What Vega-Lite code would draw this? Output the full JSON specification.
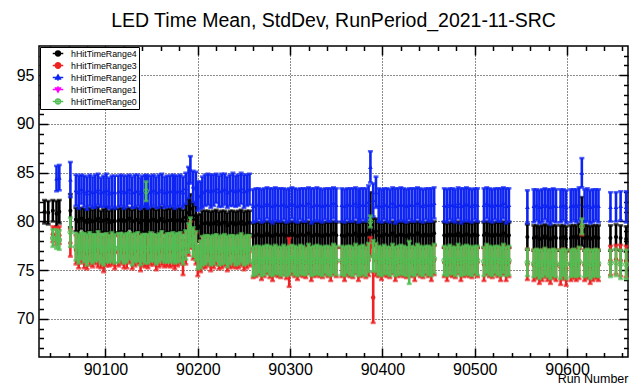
{
"$schema": "https://vega.github.io/schema/vega-lite/v6.json",
"width": 589, "height": 311,
"autosize": {"type": "none"},
"padding": {"left": 39, "top": 46, "right": 2, "bottom": 27},
"background": "white",
"title": {"text": "LED Time Mean, StdDev, RunPeriod_2021-11-SRC", "font": "Liberation Sans", "fontSize": 19.5, "fontWeight": "normal", "color": "#000", "anchor": "middle", "offset": -1, "baseline": "alphabetic"},
"config": {
  "view": {"stroke": "#000", "strokeWidth": 1.5},
  "axis": {"labelFont": "Liberation Sans", "labelFontSize": 16, "labelColor": "#000", "tickColor": "#000", "domain": false, "gridColor": "#000", "gridDash": [1, 2], "gridOpacity": 0.9, "gridWidth": 1, "tickWidth": 1.5, "titleFont": "Liberation Sans", "titleColor": "#000"},
  "legend": {"labelFont": "Liberation Sans", "labelFontSize": 8.8, "labelColor": "#000", "strokeColor": "#000", "fillColor": "#fff", "padding": 2, "rowPadding": 2, "clipHeight": 9, "symbolSize": 100, "symbolStrokeWidth": 1.3, "symbolOffset": 10, "labelOffset": 7, "orient": "top-left", "offset": 1, "cornerRadius": 0}
},
"data": {"values": [
{"r":90034,"k":81.0,"ks":1.2},
{"r":90038,"k":80.9,"ks":1.2},
{"r":90043,"k":81.1,"ks":1.1,"t":78.7,"ts":0.8,"g":78.3,"gs":0.9},
{"r":90047,"k":80.8,"ks":1.3,"t":78.5,"ts":0.9,"b":84.4,"bs":1.3,"g":78.2,"gs":1.0},
{"r":90050,"k":81.0,"ks":1.2,"t":78.6,"ts":0.9,"b":84.5,"bs":1.3,"g":78.1,"gs":1.0},
{"r":90062,"k":81.1,"ks":1.7,"t":77.8,"ts":1.4,"b":84.3,"bs":1.8,"g":78.9,"gs":1.5},
{"r":90068,"k":80.2,"ks":1.2,"t":77.1,"ts":1.5,"b":83.2,"bs":1.6,"g":77.4,"gs":1.4},
{"r":90071,"k":80.0,"ks":1.3,"t":76.8,"ts":1.6,"b":83.0,"bs":1.7,"g":77.2,"gs":1.5},
{"r":90074,"k":80.3,"ks":1.1,"t":77.2,"ts":1.5,"b":83.3,"bs":1.5,"g":77.5,"gs":1.4},
{"r":90077,"k":80.1,"ks":1.2,"t":76.9,"ts":1.7,"b":83.1,"bs":1.6,"g":77.3,"gs":1.5},
{"r":90080,"k":79.9,"ks":1.3,"t":76.7,"ts":1.6,"b":82.9,"bs":1.7,"g":77.1,"gs":1.6},
{"r":90083,"k":80.2,"ks":1.2,"t":77.0,"ts":1.5,"b":83.2,"bs":1.6,"g":77.4,"gs":1.5},
{"r":90086,"k":80.0,"ks":1.2,"t":76.9,"ts":1.6,"b":83.0,"bs":1.6,"g":77.2,"gs":1.5},
{"r":90089,"k":80.1,"ks":1.3,"t":77.1,"ts":1.5,"b":83.1,"bs":1.7,"g":77.3,"gs":1.4},
{"r":90092,"k":80.3,"ks":1.2,"t":77.0,"ts":1.7,"b":83.3,"bs":1.6,"g":77.5,"gs":1.5},
{"r":90095,"k":80.0,"ks":1.1,"t":76.8,"ts":1.6,"b":83.0,"bs":1.5,"g":77.2,"gs":1.5},
{"r":90098,"k":80.1,"ks":1.2,"t":76.6,"ts":1.8,"b":83.1,"bs":1.6,"g":77.1,"gs":1.6},
{"r":90101,"k":80.2,"ks":1.3,"t":77.0,"ts":1.6,"b":83.2,"bs":1.7,"g":77.3,"gs":1.5},
{"r":90104,"k":79.9,"ks":1.2,"t":76.9,"ts":1.5,"b":82.9,"bs":1.6,"g":77.2,"gs":1.4},
{"r":90107,"k":80.1,"ks":1.2,"t":77.1,"ts":1.6,"b":83.1,"bs":1.6,"g":77.4,"gs":1.5},
{"r":90110,"k":80.0,"ks":1.3,"t":76.8,"ts":1.7,"b":83.0,"bs":1.7,"g":77.2,"gs":1.5},
{"r":90114,"k":80.1,"ks":1.2,"t":77.0,"ts":1.6,"b":83.1,"bs":1.6,"g":77.3,"gs":1.5},
{"r":90117,"k":80.2,"ks":1.2,"t":77.1,"ts":1.5,"b":83.2,"bs":1.6,"g":77.4,"gs":1.4},
{"r":90120,"k":80.0,"ks":1.3,"t":76.8,"ts":1.6,"b":83.0,"bs":1.7,"g":77.2,"gs":1.5},
{"r":90123,"k":80.1,"ks":1.2,"t":76.9,"ts":1.7,"b":83.1,"bs":1.6,"g":77.3,"gs":1.5},
{"r":90126,"k":80.3,"ks":1.1,"t":77.2,"ts":1.5,"b":83.3,"bs":1.5,"g":77.5,"gs":1.4},
{"r":90129,"k":80.0,"ks":1.2,"t":76.7,"ts":1.6,"b":83.0,"bs":1.6,"g":77.1,"gs":1.6},
{"r":90132,"k":80.1,"ks":1.3,"t":77.0,"ts":1.6,"b":83.1,"bs":1.7,"g":77.3,"gs":1.5},
{"r":90135,"k":80.2,"ks":1.2,"t":77.1,"ts":1.5,"b":83.2,"bs":1.6,"g":77.4,"gs":1.5},
{"r":90138,"k":79.9,"ks":1.2,"t":76.6,"ts":1.7,"b":82.9,"bs":1.6,"g":77.0,"gs":1.5},
{"r":90140,"k":80.1,"ks":1.2,"t":77.0,"ts":1.6,"b":83.1,"bs":1.6,"g":77.3,"gs":1.4},
{"r":90143,"k":80.1,"ks":1.2,"t":76.9,"ts":1.6,"b":83.1,"bs":1.6,"g":77.2,"gs":1.5},
{"r":90144,"k":80.2,"ks":1.2,"t":77.0,"ts":1.5,"b":83.2,"bs":1.6,"g":83.1,"gs":1.0},
{"r":90146,"k":80.0,"ks":1.3,"t":76.8,"ts":1.6,"b":83.0,"bs":1.7,"g":77.2,"gs":1.5},
{"r":90149,"k":80.1,"ks":1.2,"t":77.1,"ts":1.6,"b":83.1,"bs":1.6,"g":77.4,"gs":1.5},
{"r":90152,"k":80.2,"ks":1.2,"t":77.0,"ts":1.5,"b":83.2,"bs":1.6,"g":77.3,"gs":1.4},
{"r":90155,"k":80.0,"ks":1.2,"t":76.7,"ts":1.7,"b":83.0,"bs":1.6,"g":77.1,"gs":1.5},
{"r":90158,"k":80.1,"ks":1.3,"t":76.9,"ts":1.6,"b":83.1,"bs":1.7,"g":77.3,"gs":1.5},
{"r":90161,"k":80.3,"ks":1.2,"t":77.1,"ts":1.6,"b":83.3,"bs":1.6,"g":77.5,"gs":1.5},
{"r":90164,"k":80.0,"ks":1.2,"t":76.8,"ts":1.5,"b":83.0,"bs":1.6,"g":77.2,"gs":1.4},
{"r":90167,"k":80.1,"ks":1.2,"t":77.0,"ts":1.6,"b":83.1,"bs":1.6,"g":77.3,"gs":1.5},
{"r":90170,"k":80.1,"ks":1.2,"t":76.9,"ts":1.6,"b":83.1,"bs":1.6,"g":77.3,"gs":1.5},
{"r":90173,"k":80.2,"ks":1.2,"t":77.0,"ts":1.6,"b":83.2,"bs":1.6,"g":77.4,"gs":1.5},
{"r":90175,"k":80.0,"ks":1.3,"t":76.8,"ts":1.7,"b":83.0,"bs":1.7,"g":77.2,"gs":1.5},
{"r":90178,"k":80.1,"ks":1.2,"t":77.0,"ts":1.6,"b":83.1,"bs":1.6,"g":77.3,"gs":1.5},
{"r":90181,"k":80.2,"ks":1.2,"t":77.1,"ts":1.5,"b":83.2,"bs":1.6,"g":77.4,"gs":1.5},
{"r":90184,"k":80.0,"ks":1.2,"t":76.3,"ts":1.8,"b":83.0,"bs":1.6,"g":77.1,"gs":1.5},
{"r":90187,"k":80.4,"ks":1.3,"t":77.2,"ts":1.6,"b":83.4,"bs":1.6,"g":77.6,"gs":1.5},
{"r":90190,"k":80.9,"ks":1.4,"t":78.0,"ts":1.5,"b":84.0,"bs":1.6,"g":78.3,"gs":1.5},
{"r":90192,"k":81.3,"ks":1.5,"t":78.6,"ts":1.4,"b":85.3,"bs":1.4,"g":78.9,"gs":1.5},
{"r":90195,"k":80.6,"ks":1.3,"t":77.6,"ts":1.5,"b":83.6,"bs":1.6,"g":77.9,"gs":1.5},
{"r":90198,"k":80.2,"ks":1.4,"t":77.2,"ts":1.6,"b":83.4,"bs":1.7,"g":77.5,"gs":1.5},
{"r":90200,"k":79.3,"ks":1.4,"t":75.9,"ts":1.5,"b":82.6,"bs":1.5,"g":76.3,"gs":1.2},
{"r":90203,"k":79.5,"ks":1.3,"t":76.4,"ts":1.6,"b":82.7,"bs":1.4,"g":76.6,"gs":1.4},
{"r":90205,"k":79.8,"ks":1.3,"t":76.8,"ts":1.6,"b":83.0,"bs":1.6,"g":77.0,"gs":1.5},
{"r":90208,"k":79.8,"ks":1.3,"t":76.8,"ts":1.6,"b":83.2,"bs":1.6,"g":77.1,"gs":1.5},
{"r":90211,"k":79.9,"ks":1.2,"t":76.9,"ts":1.5,"b":83.3,"bs":1.6,"g":77.2,"gs":1.4},
{"r":90214,"k":79.7,"ks":1.3,"t":76.6,"ts":1.7,"b":83.1,"bs":1.7,"g":77.0,"gs":1.5},
{"r":90217,"k":79.8,"ks":1.3,"t":76.8,"ts":1.6,"b":83.2,"bs":1.6,"g":77.1,"gs":1.5},
{"r":90220,"k":80.0,"ks":1.2,"t":77.0,"ts":1.5,"b":83.4,"bs":1.5,"g":77.3,"gs":1.4},
{"r":90223,"k":79.7,"ks":1.3,"t":76.7,"ts":1.6,"b":83.1,"bs":1.6,"g":77.0,"gs":1.5},
{"r":90226,"k":79.8,"ks":1.3,"t":76.8,"ts":1.6,"b":83.2,"bs":1.7,"g":77.1,"gs":1.5},
{"r":90229,"k":79.9,"ks":1.2,"t":76.9,"ts":1.5,"b":83.3,"bs":1.6,"g":77.2,"gs":1.5},
{"r":90232,"k":79.6,"ks":1.3,"t":76.6,"ts":1.7,"b":83.0,"bs":1.6,"g":76.9,"gs":1.6},
{"r":90235,"k":79.8,"ks":1.3,"t":76.8,"ts":1.6,"b":83.2,"bs":1.6,"g":77.1,"gs":1.5},
{"r":90238,"k":79.9,"ks":1.2,"t":76.9,"ts":1.6,"b":83.3,"bs":1.7,"g":77.2,"gs":1.4},
{"r":90241,"k":79.7,"ks":1.3,"t":76.7,"ts":1.5,"b":83.1,"bs":1.6,"g":77.0,"gs":1.5},
{"r":90244,"k":79.8,"ks":1.3,"t":76.8,"ts":1.6,"b":83.2,"bs":1.6,"g":77.1,"gs":1.5},
{"r":90247,"k":80.0,"ks":1.2,"t":77.0,"ts":1.6,"b":83.4,"bs":1.6,"g":77.3,"gs":1.5},
{"r":90250,"k":79.7,"ks":1.3,"t":76.7,"ts":1.7,"b":83.1,"bs":1.7,"g":77.0,"gs":1.5},
{"r":90253,"k":79.8,"ks":1.3,"t":76.8,"ts":1.6,"b":83.2,"bs":1.6,"g":77.1,"gs":1.5},
{"r":90256,"k":79.9,"ks":1.2,"t":76.9,"ts":1.5,"b":83.3,"bs":1.6,"g":77.2,"gs":1.4},
{"r":90260,"k":78.5,"ks":1.3,"t":75.7,"ts":1.5,"b":81.6,"bs":1.7,"g":75.9,"gs":1.5},
{"r":90263,"k":78.6,"ks":1.3,"t":75.8,"ts":1.5,"b":81.7,"bs":1.7,"g":76.0,"gs":1.5},
{"r":90266,"k":78.7,"ks":1.2,"t":75.9,"ts":1.4,"b":81.8,"bs":1.6,"g":76.1,"gs":1.4},
{"r":90269,"k":78.5,"ks":1.3,"t":75.6,"ts":1.6,"b":81.6,"bs":1.7,"g":75.9,"gs":1.5},
{"r":90272,"k":78.6,"ks":1.3,"t":75.8,"ts":1.5,"b":81.7,"bs":1.7,"g":76.0,"gs":1.5},
{"r":90275,"k":78.8,"ks":1.2,"t":76.0,"ts":1.4,"b":81.9,"bs":1.6,"g":76.2,"gs":1.4},
{"r":90278,"k":78.6,"ks":1.3,"t":75.7,"ts":1.5,"b":81.7,"bs":1.7,"g":76.0,"gs":1.5},
{"r":90281,"k":78.5,"ks":1.3,"t":75.6,"ts":1.7,"b":81.6,"bs":1.8,"g":75.9,"gs":1.5},
{"r":90284,"k":78.7,"ks":1.2,"t":75.9,"ts":1.5,"b":81.8,"bs":1.7,"g":76.1,"gs":1.5},
{"r":90287,"k":78.6,"ks":1.3,"t":75.8,"ts":1.5,"b":81.7,"bs":1.7,"g":76.0,"gs":1.4},
{"r":90290,"k":78.6,"ks":1.3,"t":75.7,"ts":1.5,"b":81.7,"bs":1.7,"g":75.9,"gs":1.5},
{"r":90293,"k":78.7,"ks":1.2,"t":75.9,"ts":1.4,"b":81.8,"bs":1.6,"g":76.1,"gs":1.5},
{"r":90296,"k":78.5,"ks":1.3,"t":75.7,"ts":1.6,"b":81.6,"bs":1.7,"g":75.9,"gs":1.5},
{"r":90299,"k":78.6,"ks":1.3,"t":75.8,"ts":2.5,"b":81.7,"bs":1.7,"g":76.0,"gs":1.5},
{"r":90302,"k":78.8,"ks":1.2,"t":76.0,"ts":1.5,"b":81.9,"bs":1.6,"g":76.2,"gs":1.4},
{"r":90305,"k":78.6,"ks":1.3,"t":75.8,"ts":1.5,"b":81.7,"bs":1.7,"g":76.0,"gs":1.5},
{"r":90308,"k":78.5,"ks":1.3,"t":75.6,"ts":1.6,"b":81.6,"bs":1.7,"g":75.9,"gs":1.5},
{"r":90311,"k":78.7,"ks":1.2,"t":75.9,"ts":1.5,"b":81.8,"bs":1.6,"g":76.1,"gs":1.5},
{"r":90314,"k":78.6,"ks":1.3,"t":75.8,"ts":1.5,"b":81.7,"bs":1.7,"g":76.0,"gs":1.5},
{"r":90317,"k":78.6,"ks":1.3,"t":75.7,"ts":1.5,"b":81.7,"bs":1.7,"g":75.9,"gs":1.4},
{"r":90320,"k":78.8,"ks":1.2,"t":76.0,"ts":1.4,"b":81.9,"bs":1.6,"g":76.2,"gs":1.5},
{"r":90323,"k":78.5,"ks":1.3,"t":75.6,"ts":1.7,"b":81.6,"bs":1.8,"g":75.9,"gs":1.5},
{"r":90326,"k":78.6,"ks":1.3,"t":75.8,"ts":1.5,"b":81.7,"bs":1.7,"g":76.0,"gs":1.5},
{"r":90329,"k":78.7,"ks":1.2,"t":75.9,"ts":1.5,"b":81.8,"bs":1.7,"g":76.1,"gs":1.5},
{"r":90332,"k":78.6,"ks":1.3,"t":75.8,"ts":1.5,"b":81.7,"bs":1.7,"g":76.0,"gs":1.5},
{"r":90335,"k":78.5,"ks":1.3,"t":75.7,"ts":1.5,"b":81.6,"bs":1.7,"g":75.9,"gs":1.5},
{"r":90338,"k":78.7,"ks":1.2,"t":75.9,"ts":1.4,"b":81.8,"bs":1.6,"g":76.1,"gs":1.4},
{"r":90341,"k":78.6,"ks":1.3,"t":75.8,"ts":1.5,"b":81.7,"bs":1.7,"g":76.0,"gs":1.5},
{"r":90344,"k":78.6,"ks":1.3,"t":75.6,"ts":1.7,"b":81.7,"bs":1.7,"g":75.9,"gs":1.5},
{"r":90347,"k":78.8,"ks":1.2,"t":76.0,"ts":1.5,"b":81.9,"bs":1.6,"g":76.2,"gs":1.5},
{"r":90350,"k":78.6,"ks":1.3,"t":75.8,"ts":1.5,"b":81.7,"bs":1.7,"g":76.0,"gs":1.5},
{"r":90356,"k":78.6,"ks":1.3,"t":75.8,"ts":1.5,"b":81.7,"bs":1.7,"g":76.0,"gs":1.5},
{"r":90359,"k":78.5,"ks":1.3,"t":75.6,"ts":1.7,"b":81.6,"bs":1.7,"g":75.9,"gs":1.5},
{"r":90362,"k":78.7,"ks":1.2,"t":75.9,"ts":1.5,"b":81.8,"bs":1.6,"g":76.1,"gs":1.4},
{"r":90365,"k":78.6,"ks":1.3,"t":75.8,"ts":1.5,"b":81.7,"bs":1.7,"g":76.0,"gs":1.5},
{"r":90368,"k":78.6,"ks":1.3,"t":75.7,"ts":1.5,"b":81.7,"bs":1.7,"g":75.9,"gs":1.5},
{"r":90371,"k":78.8,"ks":1.2,"t":76.0,"ts":1.4,"b":81.9,"bs":1.6,"g":76.2,"gs":1.5},
{"r":90374,"k":78.5,"ks":1.3,"t":75.6,"ts":1.7,"b":81.6,"bs":1.7,"g":75.9,"gs":1.5},
{"r":90376,"k":78.6,"ks":1.3,"t":75.8,"ts":1.5,"b":81.7,"bs":1.7,"g":76.0,"gs":1.5},
{"r":90379,"k":78.7,"ks":1.2,"t":75.9,"ts":1.5,"b":81.8,"bs":1.6,"g":76.1,"gs":1.5},
{"r":90382,"k":78.6,"ks":1.3,"t":75.7,"ts":1.5,"b":81.7,"bs":1.7,"g":75.9,"gs":1.5},
{"r":90385,"k":78.8,"ks":1.3,"t":76.0,"ts":1.6,"b":82.0,"bs":1.7,"g":76.3,"gs":1.5},
{"r":90387,"k":80.5,"ks":2.5,"t":77.4,"ts":1.0,"b":85.6,"bs":1.6,"g":80.0,"gs":0.6},
{"r":90390,"k":78.9,"ks":1.4,"t":72.2,"ts":2.6,"b":82.2,"bs":1.7,"g":76.5,"gs":1.6},
{"r":90393,"k":79.0,"ks":1.3,"t":76.0,"ts":1.6,"b":83.0,"bs":1.6,"g":76.3,"gs":1.5},
{"r":90396,"k":78.6,"ks":1.3,"t":75.8,"ts":1.5,"b":81.7,"bs":1.7,"g":76.0,"gs":1.5},
{"r":90399,"k":78.5,"ks":1.3,"t":75.6,"ts":1.6,"b":81.6,"bs":1.7,"g":75.9,"gs":1.5},
{"r":90402,"k":78.7,"ks":1.2,"t":75.9,"ts":1.5,"b":81.8,"bs":1.6,"g":76.1,"gs":1.5},
{"r":90405,"k":78.6,"ks":1.3,"t":75.8,"ts":1.5,"b":81.7,"bs":1.7,"g":76.0,"gs":1.4},
{"r":90408,"k":78.6,"ks":1.3,"t":75.7,"ts":1.5,"b":81.6,"bs":1.7,"g":75.9,"gs":1.5},
{"r":90411,"k":78.8,"ks":1.2,"t":76.0,"ts":1.4,"b":81.9,"bs":1.6,"g":76.2,"gs":1.5},
{"r":90414,"k":78.5,"ks":1.3,"t":75.6,"ts":1.7,"b":81.6,"bs":1.8,"g":75.9,"gs":1.5},
{"r":90417,"k":78.6,"ks":1.3,"t":75.8,"ts":1.5,"b":81.7,"bs":1.7,"g":76.0,"gs":1.5},
{"r":90420,"k":78.7,"ks":1.2,"t":75.9,"ts":1.5,"b":81.8,"bs":1.7,"g":76.1,"gs":1.5},
{"r":90423,"k":78.6,"ks":1.3,"t":75.8,"ts":1.5,"b":81.7,"bs":1.7,"g":76.0,"gs":1.5},
{"r":90426,"k":78.5,"ks":1.3,"t":75.7,"ts":1.5,"b":81.6,"bs":1.7,"g":75.9,"gs":1.5},
{"r":90429,"k":78.7,"ks":1.2,"t":75.9,"ts":1.4,"b":81.8,"bs":1.6,"g":75.8,"gs":2.2},
{"r":90432,"k":78.6,"ks":1.3,"t":75.8,"ts":1.5,"b":81.7,"bs":1.7,"g":76.0,"gs":1.5},
{"r":90435,"k":78.6,"ks":1.3,"t":75.6,"ts":1.7,"b":81.7,"bs":1.7,"g":75.9,"gs":1.5},
{"r":90438,"k":78.8,"ks":1.2,"t":76.0,"ts":1.5,"b":81.9,"bs":1.6,"g":76.2,"gs":1.5},
{"r":90441,"k":78.6,"ks":1.3,"t":75.8,"ts":1.5,"b":81.7,"bs":1.7,"g":76.0,"gs":1.5},
{"r":90444,"k":78.5,"ks":1.3,"t":75.7,"ts":1.5,"b":81.6,"bs":1.7,"g":75.9,"gs":1.5},
{"r":90447,"k":78.7,"ks":1.2,"t":75.9,"ts":1.4,"b":81.8,"bs":1.6,"g":76.1,"gs":1.4},
{"r":90450,"k":78.6,"ks":1.3,"t":75.8,"ts":1.5,"b":81.7,"bs":1.7,"g":76.0,"gs":1.5},
{"r":90453,"k":78.6,"ks":1.3,"t":75.6,"ts":1.7,"b":81.7,"bs":1.7,"g":75.9,"gs":1.5},
{"r":90456,"k":78.8,"ks":1.2,"t":76.0,"ts":1.5,"b":81.9,"bs":1.6,"g":76.2,"gs":1.5},
{"r":90467,"k":78.6,"ks":1.3,"t":75.8,"ts":1.5,"b":81.7,"bs":1.7,"g":76.0,"gs":1.5},
{"r":90470,"k":78.5,"ks":1.3,"t":75.6,"ts":1.7,"b":81.6,"bs":1.7,"g":75.9,"gs":1.5},
{"r":90473,"k":78.7,"ks":1.2,"t":75.9,"ts":1.5,"b":81.8,"bs":1.6,"g":76.1,"gs":1.5},
{"r":90476,"k":78.6,"ks":1.3,"t":75.8,"ts":1.5,"b":81.7,"bs":1.7,"g":76.0,"gs":1.4},
{"r":90479,"k":78.6,"ks":1.3,"t":75.7,"ts":1.5,"b":81.6,"bs":1.7,"g":75.9,"gs":1.5},
{"r":90482,"k":78.8,"ks":1.2,"t":76.0,"ts":1.4,"b":81.9,"bs":1.6,"g":76.2,"gs":1.5},
{"r":90485,"k":78.5,"ks":1.3,"t":75.6,"ts":1.7,"b":81.6,"bs":1.8,"g":75.9,"gs":1.5},
{"r":90488,"k":78.6,"ks":1.3,"t":75.8,"ts":1.5,"b":81.7,"bs":1.7,"g":76.0,"gs":1.5},
{"r":90491,"k":78.7,"ks":1.2,"t":75.9,"ts":1.5,"b":81.8,"bs":1.7,"g":76.1,"gs":1.5},
{"r":90494,"k":78.6,"ks":1.3,"t":75.8,"ts":1.5,"b":81.7,"bs":1.7,"g":76.0,"gs":1.5},
{"r":90497,"k":78.5,"ks":1.3,"t":75.7,"ts":1.5,"b":81.6,"bs":1.7,"g":75.9,"gs":1.5},
{"r":90500,"k":78.7,"ks":1.2,"t":75.9,"ts":1.4,"b":81.8,"bs":1.6,"g":76.1,"gs":1.4},
{"r":90503,"k":78.6,"ks":1.3,"t":75.8,"ts":1.5,"b":81.7,"bs":1.7,"g":76.0,"gs":1.5},
{"r":90510,"k":78.6,"ks":1.3,"t":75.6,"ts":1.7,"b":81.7,"bs":1.7,"g":75.9,"gs":1.5},
{"r":90513,"k":78.8,"ks":1.2,"t":76.0,"ts":1.5,"b":81.9,"bs":1.6,"g":76.2,"gs":1.5},
{"r":90516,"k":78.6,"ks":1.3,"t":75.8,"ts":1.5,"b":81.7,"bs":1.7,"g":76.0,"gs":1.5},
{"r":90519,"k":78.5,"ks":1.3,"t":75.7,"ts":1.5,"b":81.6,"bs":1.7,"g":75.9,"gs":1.5},
{"r":90522,"k":78.7,"ks":1.2,"t":75.9,"ts":1.4,"b":81.8,"bs":1.6,"g":76.1,"gs":1.4},
{"r":90525,"k":78.6,"ks":1.3,"t":75.8,"ts":1.5,"b":81.7,"bs":1.7,"g":76.0,"gs":1.5},
{"r":90528,"k":78.6,"ks":1.3,"t":75.6,"ts":1.7,"b":81.7,"bs":1.7,"g":75.9,"gs":1.5},
{"r":90531,"k":78.8,"ks":1.2,"t":76.0,"ts":1.5,"b":81.9,"bs":1.6,"g":76.2,"gs":1.5},
{"r":90534,"k":78.5,"ks":1.3,"t":75.6,"ts":1.7,"b":81.6,"bs":1.8,"g":75.9,"gs":1.5},
{"r":90537,"k":78.6,"ks":1.3,"t":75.8,"ts":1.5,"b":81.7,"bs":1.7,"g":76.0,"gs":1.5},
{"r":90557,"k":78.4,"ks":1.3,"t":75.6,"ts":1.6,"b":81.5,"bs":1.7,"g":75.8,"gs":1.4},
{"r":90564,"k":78.3,"ks":1.3,"t":75.5,"ts":1.6,"b":81.6,"bs":1.7,"g":75.7,"gs":1.4},
{"r":90567,"k":78.4,"ks":1.2,"t":75.6,"ts":1.5,"b":81.7,"bs":1.6,"g":75.8,"gs":1.4},
{"r":90570,"k":78.2,"ks":1.3,"t":75.3,"ts":1.7,"b":81.5,"bs":1.7,"g":75.6,"gs":1.5},
{"r":90573,"k":78.3,"ks":1.3,"t":75.5,"ts":1.6,"b":81.6,"bs":1.7,"g":75.7,"gs":1.4},
{"r":90576,"k":78.5,"ks":1.2,"t":75.7,"ts":1.5,"b":81.8,"bs":1.6,"g":75.9,"gs":1.4},
{"r":90579,"k":78.3,"ks":1.3,"t":75.5,"ts":1.6,"b":81.6,"bs":1.7,"g":75.7,"gs":1.4},
{"r":90582,"k":78.2,"ks":1.3,"t":75.3,"ts":1.7,"b":81.5,"bs":1.8,"g":75.6,"gs":1.5},
{"r":90585,"k":78.4,"ks":1.2,"t":75.6,"ts":1.5,"b":81.7,"bs":1.7,"g":75.8,"gs":1.4},
{"r":90588,"k":78.3,"ks":1.3,"t":75.5,"ts":1.6,"b":81.6,"bs":1.7,"g":75.7,"gs":1.4},
{"r":90593,"k":78.3,"ks":1.3,"t":75.3,"ts":1.8,"b":81.6,"bs":1.7,"g":75.6,"gs":1.5},
{"r":90596,"k":78.4,"ks":1.2,"t":75.6,"ts":1.6,"b":81.7,"bs":1.6,"g":75.8,"gs":1.4},
{"r":90599,"k":78.2,"ks":1.3,"t":75.2,"ts":1.8,"b":81.5,"bs":1.7,"g":75.6,"gs":1.5},
{"r":90604,"k":78.3,"ks":1.3,"t":75.5,"ts":1.6,"b":81.6,"bs":1.7,"g":75.7,"gs":1.4},
{"r":90607,"k":78.4,"ks":1.2,"t":75.6,"ts":1.5,"b":81.7,"bs":1.6,"g":75.8,"gs":1.4},
{"r":90610,"k":78.3,"ks":1.3,"t":75.5,"ts":1.6,"b":81.6,"bs":1.7,"g":75.7,"gs":1.4},
{"r":90613,"k":78.5,"ks":1.3,"t":75.7,"ts":1.6,"b":81.8,"bs":1.7,"g":75.9,"gs":1.5},
{"r":90616,"k":80.0,"ks":2.5,"t":79.4,"ts":0.8,"b":85.0,"bs":1.5,"g":79.5,"gs":0.8},
{"r":90619,"k":78.3,"ks":1.3,"t":75.5,"ts":1.6,"b":81.6,"bs":1.7,"g":75.7,"gs":1.4},
{"r":90622,"k":78.4,"ks":1.2,"t":75.6,"ts":1.5,"b":81.7,"bs":1.7,"g":75.8,"gs":1.4},
{"r":90625,"k":78.2,"ks":1.3,"t":75.3,"ts":1.7,"b":81.5,"bs":1.7,"g":75.6,"gs":1.5},
{"r":90628,"k":78.3,"ks":1.3,"t":75.5,"ts":1.6,"b":81.6,"bs":1.7,"g":75.7,"gs":1.4},
{"r":90631,"k":78.4,"ks":1.2,"t":75.6,"ts":1.5,"b":81.7,"bs":1.6,"g":75.8,"gs":1.4},
{"r":90634,"k":78.3,"ks":1.3,"t":75.5,"ts":1.6,"b":81.6,"bs":1.7,"g":75.7,"gs":1.4},
{"r":90647,"k":78.3,"ks":1.3,"t":76.0,"ts":1.5,"b":81.5,"bs":1.5,"g":75.7,"gs":1.4},
{"r":90653,"k":78.4,"ks":1.3,"t":76.1,"ts":1.5,"b":81.5,"bs":1.5,"g":75.8,"gs":1.4},
{"r":90658,"k":78.3,"ks":1.3,"t":76.0,"ts":1.6,"b":81.6,"bs":1.5,"g":75.6,"gs":1.5},
{"r":90664,"k":78.2,"ks":1.3,"t":75.9,"ts":1.6,"b":81.5,"bs":1.6,"g":75.6,"gs":1.5}
]},
"encoding": {
  "x": {"field": "r", "type": "quantitative", "scale": {"domain": [90028, 90666], "nice": false, "zero": false}, "axis": null}
},
"layer": [
  {"data": {"values": []}, "mark": {"type": "point", "opacity": 0},
   "encoding": {
     "x": {"field": "r", "type": "quantitative", "scale": {"domain": [90028, 90666], "nice": false, "zero": false},
           "axis": {"orient": "bottom", "values": [90100, 90200, 90300, 90400, 90500, 90600], "format": "d", "tickSize": -9, "labelPadding": 13, "grid": true, "title": "Run Number", "titleFontSize": 12.5, "titleFontWeight": "normal", "titleAlign": "right", "titleBaseline": "alphabetic", "titleX": 589, "titleY": 25}},
     "y": {"field": "k", "type": "quantitative", "scale": {"domain": [66.1, 98], "nice": false, "zero": false},
           "axis": {"orient": "left", "values": [70, 75, 80, 85, 90, 95], "format": "d", "tickSize": -9, "labelPadding": 14, "grid": true, "title": null}}
   }},
  {"data": {"values": []}, "mark": {"type": "point", "opacity": 0},
   "encoding": {
     "x": {"field": "r", "type": "quantitative", "scale": {"domain": [90028, 90666], "nice": false, "zero": false},
           "axis": {"orient": "bottom", "values": [90040, 90060, 90080, 90120, 90140, 90160, 90180, 90220, 90240, 90260, 90280, 90320, 90340, 90360, 90380, 90420, 90440, 90460, 90480, 90520, 90540, 90560, 90580, 90620, 90640, 90660], "tickSize": -4.5, "labels": false, "grid": false, "title": null}},
     "y": {"field": "k", "type": "quantitative", "scale": {"domain": [66.1, 98], "nice": false, "zero": false},
           "axis": {"orient": "left", "values": [67, 68, 69, 71, 72, 73, 74, 76, 77, 78, 79, 81, 82, 83, 84, 86, 87, 88, 89, 91, 92, 93, 94, 96, 97], "tickSize": -4.5, "labels": false, "grid": false, "title": null}}
   }},
  {"data": {"values": []}, "mark": {"type": "point", "opacity": 0},
   "encoding": {
     "x": {"field": "r", "type": "quantitative", "scale": {"domain": [90028, 90666], "nice": false, "zero": false},
           "axis": {"orient": "top", "values": [90100, 90200, 90300, 90400, 90500, 90600], "tickSize": -9, "labels": false, "grid": false, "title": null}},
     "y": {"field": "k", "type": "quantitative", "scale": {"domain": [66.1, 98], "nice": false, "zero": false},
           "axis": {"orient": "right", "values": [70, 75, 80, 85, 90, 95], "tickSize": -9, "labels": false, "grid": false, "title": null}}
   }},
  {"data": {"values": []}, "mark": {"type": "point", "opacity": 0},
   "encoding": {
     "x": {"field": "r", "type": "quantitative", "scale": {"domain": [90028, 90666], "nice": false, "zero": false},
           "axis": {"orient": "top", "values": [90040, 90060, 90080, 90120, 90140, 90160, 90180, 90220, 90240, 90260, 90280, 90320, 90340, 90360, 90380, 90420, 90440, 90460, 90480, 90520, 90540, 90560, 90580, 90620, 90640, 90660], "tickSize": -4.5, "labels": false, "grid": false, "title": null}},
     "y": {"field": "k", "type": "quantitative", "scale": {"domain": [66.1, 98], "nice": false, "zero": false},
           "axis": {"orient": "right", "values": [67, 68, 69, 71, 72, 73, 74, 76, 77, 78, 79, 81, 82, 83, 84, 86, 87, 88, 89, 91, 92, 93, 94, 96, 97], "tickSize": -4.5, "labels": false, "grid": false, "title": null}}
   }},
  {"transform": [{"filter": "isValid(datum.k)"}],
   "encoding": {"y": {"field": "k", "type": "quantitative", "scale": {"domain": [66.1, 98], "nice": false, "zero": false}, "axis": null}},
   "layer": [
     {"mark": {"type": "errorbar", "ticks": true, "size": 5, "thickness": 2.6, "color": "#000000"}, "encoding": {"yError": {"field": "ks"}}},
     {"mark": {"type": "point", "shape": "circle", "filled": true, "size": 16, "color": "#000000", "opacity": 1}}
   ]},
  {"transform": [{"filter": "isValid(datum.t)"}],
   "encoding": {"y": {"field": "t", "type": "quantitative", "scale": {"domain": [66.1, 98], "nice": false, "zero": false}, "axis": null}},
   "layer": [
     {"mark": {"type": "errorbar", "ticks": true, "size": 5, "thickness": 2.6, "color": "#ee2222"}, "encoding": {"yError": {"field": "ts"}}},
     {"mark": {"type": "point", "shape": "circle", "filled": true, "size": 20, "color": "#ee2222", "opacity": 1}}
   ]},
  {"transform": [{"filter": "isValid(datum.b)"}],
   "encoding": {"y": {"field": "b", "type": "quantitative", "scale": {"domain": [66.1, 98], "nice": false, "zero": false}, "axis": null}},
   "layer": [
     {"mark": {"type": "errorbar", "ticks": true, "size": 5, "thickness": 2.6, "color": "#0d24f2"}, "encoding": {"yError": {"field": "bs"}}},
     {"mark": {"type": "point", "shape": "triangle-up", "filled": true, "size": 22, "color": "#0d24f2", "opacity": 1}}
   ]},
  {"transform": [{"filter": "isValid(datum.g)"}],
   "encoding": {"y": {"field": "g", "type": "quantitative", "scale": {"domain": [66.1, 98], "nice": false, "zero": false}, "axis": null}},
   "layer": [
     {"mark": {"type": "errorbar", "ticks": true, "size": 5, "thickness": 2.6, "color": "#52bd52"}, "encoding": {"yError": {"field": "gs"}}},
     {"mark": {"type": "point", "shape": "circle", "filled": false, "size": 24, "color": "#52bd52", "strokeWidth": 1, "opacity": 1}}
   ]},
  {"data": {"values": []}, "mark": {"type": "point", "filled": true, "opacity": 1, "size": 100},
   "encoding": {
     "fill": {"field": "s", "type": "nominal", "scale": {"domain": ["hHitTimeRange4", "hHitTimeRange3", "hHitTimeRange2", "hHitTimeRange1", "hHitTimeRange0"], "range": ["#000000", "#ee2222", "#0d24f2", "#ff00ff", "transparent"]}, "legend": {"title": null, "symbolSize": 100, "clipHeight": 9, "rowPadding": 2, "labelExpr": "datum.label + '\u00a0\u00a0\u00a0\u00a0\u00a0\u00a0\u00a0\u00a0\u00a0\u00a0\u00a0\u00a0\u00a0\u00a0\u00a0\u00a0'"}},
     "stroke": {"field": "s", "type": "nominal", "scale": {"domain": ["hHitTimeRange4", "hHitTimeRange3", "hHitTimeRange2", "hHitTimeRange1", "hHitTimeRange0"], "range": ["#000000", "#ee2222", "#0d24f2", "#ff00ff", "#52bd52"]}, "legend": {"title": null, "symbolSize": 100, "clipHeight": 9, "rowPadding": 2, "labelExpr": "datum.label + '\u00a0\u00a0\u00a0\u00a0\u00a0\u00a0\u00a0\u00a0\u00a0\u00a0\u00a0\u00a0\u00a0\u00a0\u00a0\u00a0'"}},
     "shape": {"field": "s", "type": "nominal", "scale": {"domain": ["hHitTimeRange4", "hHitTimeRange3", "hHitTimeRange2", "hHitTimeRange1", "hHitTimeRange0"], "range": [
        "M-1.05,0H1.05M0,-0.65V0.65M-0.5,0A0.5,0.5 0 1,1 0.5,0A0.5,0.5 0 1,1 -0.5,0Z",
        "M-1.05,0H1.05M0,-0.65V0.65M-0.55,0A0.55,0.55 0 1,1 0.55,0A0.55,0.55 0 1,1 -0.55,0Z",
        "M-1.05,0H1.05M0,-0.65V0.65M0,-0.55L0.5,0.32L-0.5,0.32Z",
        "M-1.05,0H1.05M0,-0.65V0.65M0,0.55L0.5,-0.32L-0.5,-0.32Z",
        "M-1.05,0H1.05M0,-0.65V0.65M-0.5,0A0.5,0.5 0 1,1 0.5,0A0.5,0.5 0 1,1 -0.5,0Z"]}, "legend": {"title": null, "symbolSize": 100, "clipHeight": 9, "rowPadding": 2, "labelExpr": "datum.label + '\u00a0\u00a0\u00a0\u00a0\u00a0\u00a0\u00a0\u00a0\u00a0\u00a0\u00a0\u00a0\u00a0\u00a0\u00a0\u00a0'"}}
   }}
],
"resolve": {"axis": {"x": "independent", "y": "independent"}}
}
